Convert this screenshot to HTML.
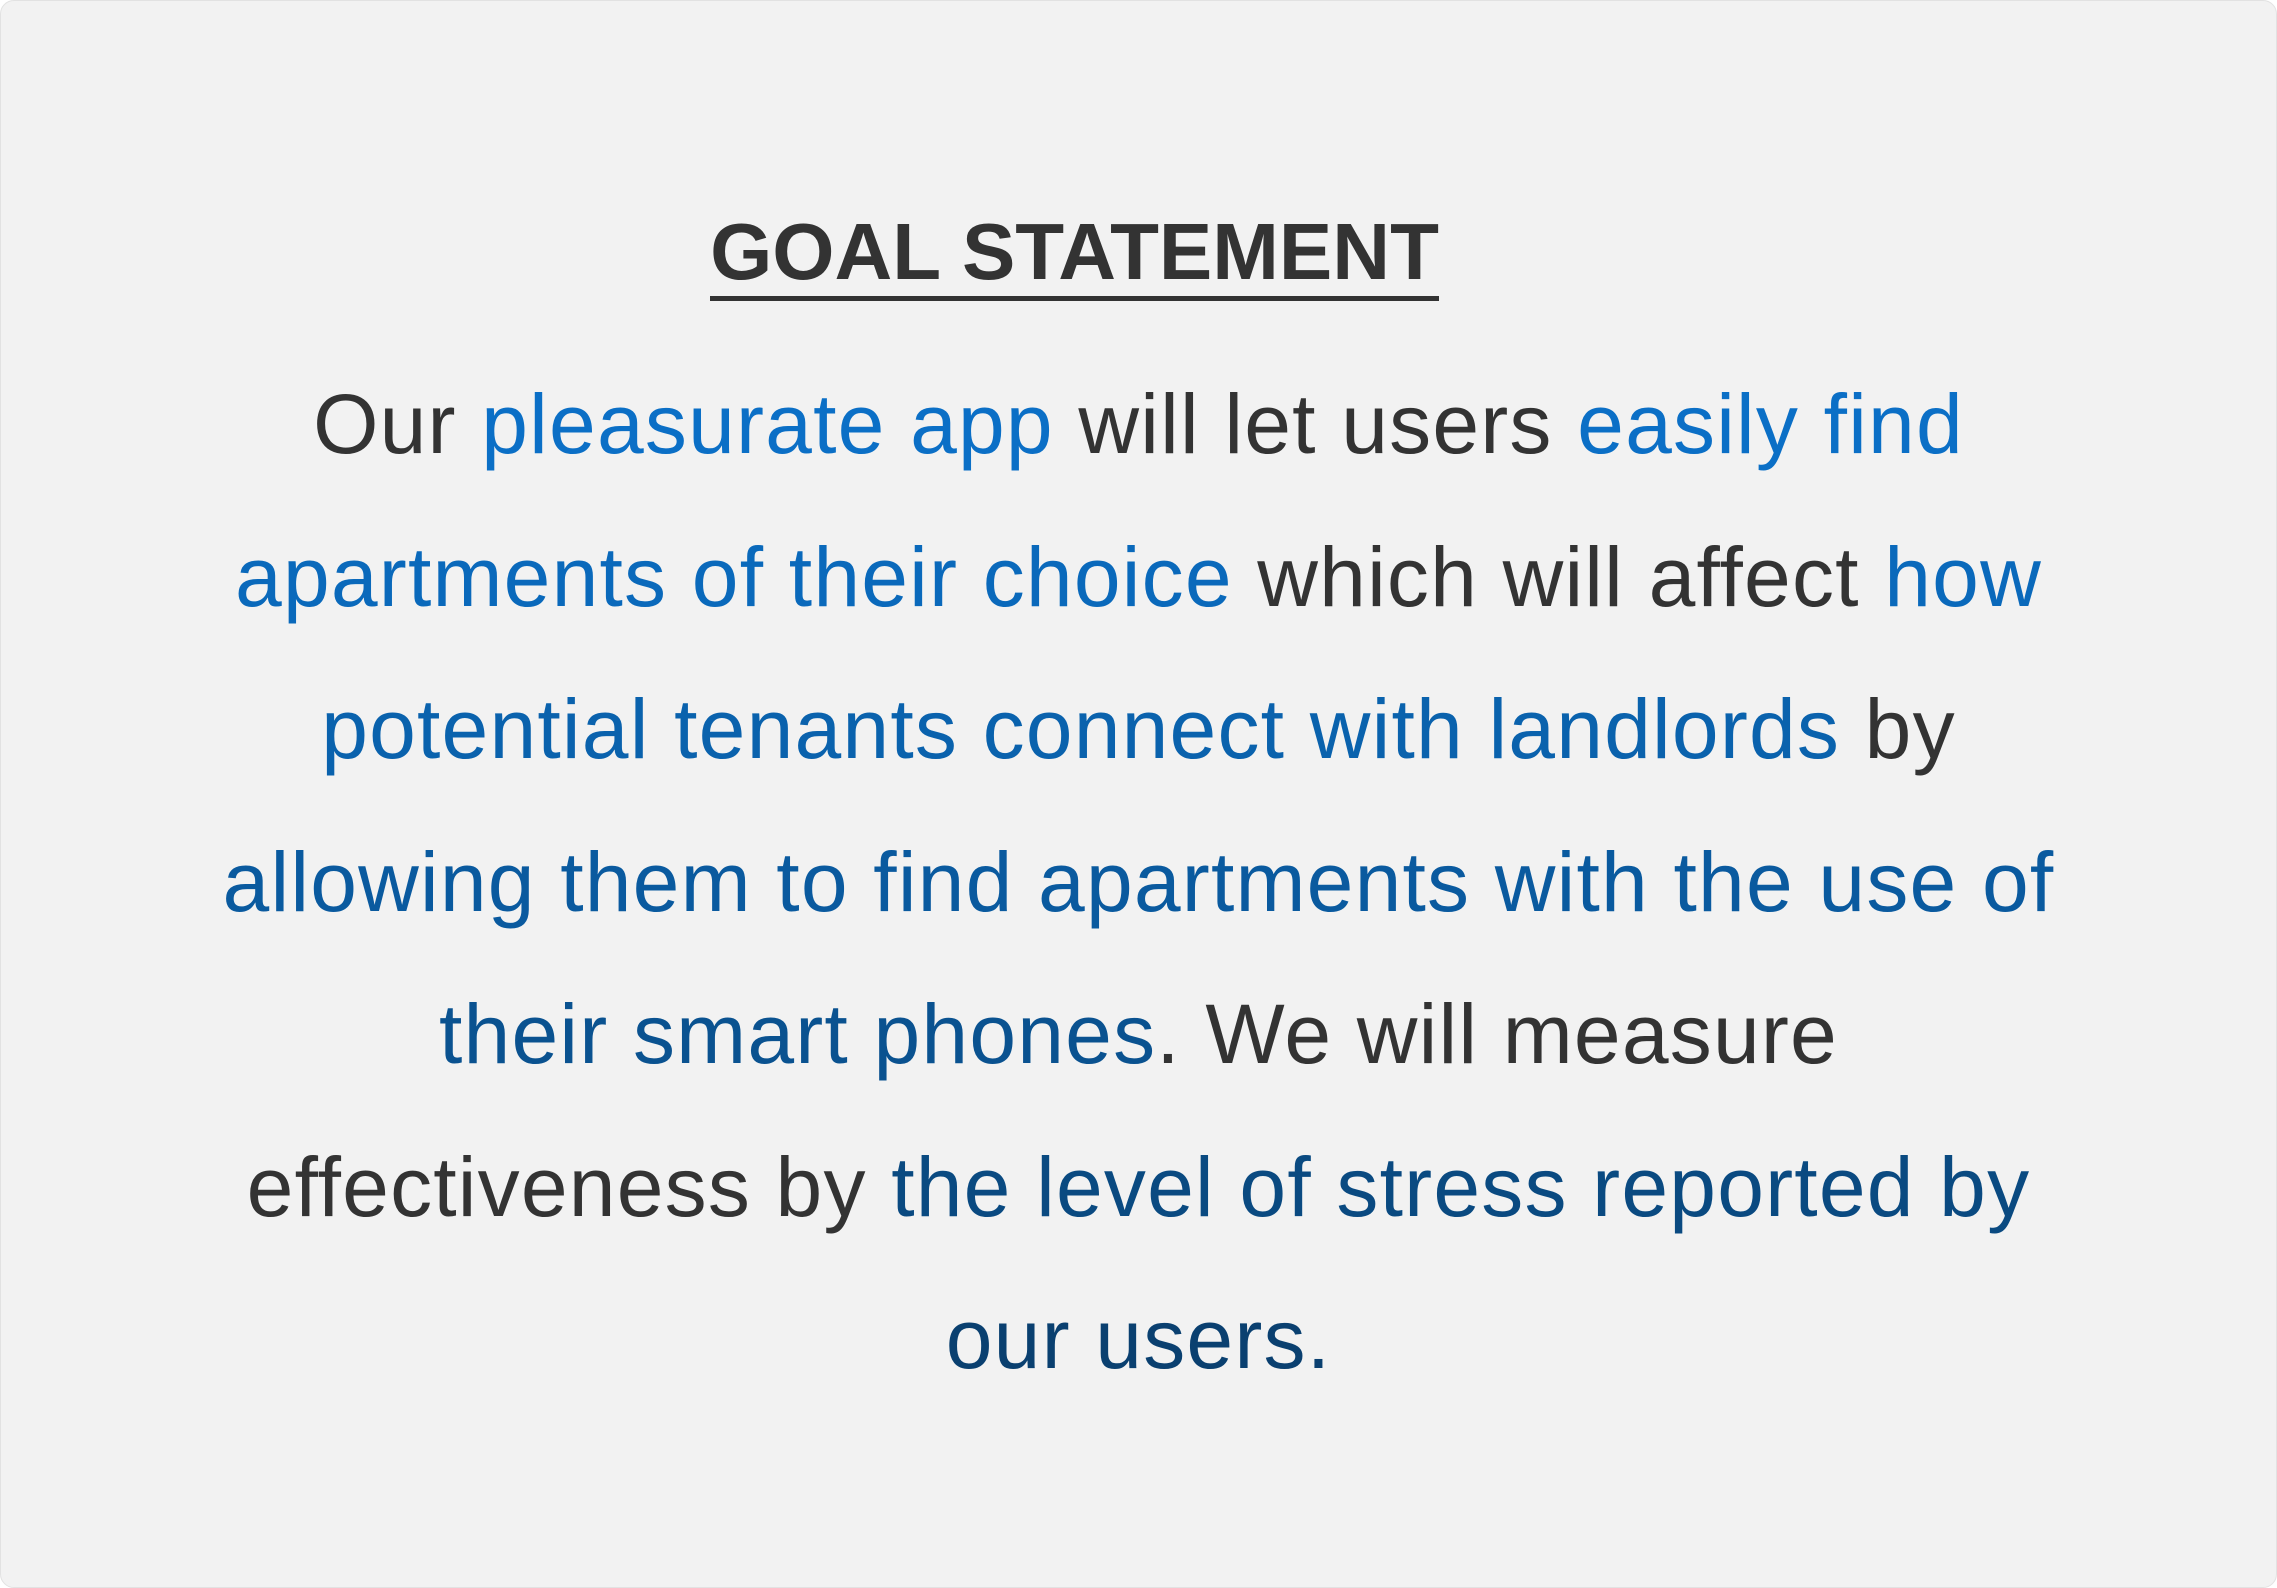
<!DOCTYPE html>
<html><head><meta charset="utf-8"><style>
html,body{margin:0;padding:0;width:2277px;height:1588px;background:#fff;overflow:hidden}
.card{position:absolute;left:0;top:0;width:2275px;height:1586px;background:#f2f2f2;border:1px solid #e2e2e2;border-radius:14px}
.t{position:absolute;left:0;width:2277px;text-align:center;font-family:"Liberation Sans",sans-serif;line-height:1.149;white-space:nowrap}
.title{font-size:80px;font-weight:bold;color:#333;top:206px;left:-64px}
.title span{border-bottom:5px solid #333;padding-bottom:0px}
.l{font-size:84px;color:#333;letter-spacing:1.2px}
</style></head><body>
<div class="card"></div>
<div class="t title"><span>GOAL STATEMENT</span></div>
<div class="t l" style="top:376px">Our <span style="color:#0b6fc6">pleasurate app</span> will let users <span style="color:#0b6fc6">easily find</span></div>
<div class="t l" style="top:529px"><span style="color:#0a69bb">apartments of their choice</span> which will affect <span style="color:#0a69bb">how</span></div>
<div class="t l" style="top:681px"><span style="color:#0a62ad">potential tenants connect with landlords</span> by</div>
<div class="t l" style="top:834px"><span style="color:#0a5a9f">allowing them to find apartments with the use of</span></div>
<div class="t l" style="top:986px"><span style="color:#0a5290">their smart phones</span>. We will measure</div>
<div class="t l" style="top:1139px">effectiveness by <span style="color:#0a4a81">the level of stress reported by</span></div>
<div class="t l" style="top:1291px"><span style="color:#0a4070">our users.</span></div>
</body></html>
